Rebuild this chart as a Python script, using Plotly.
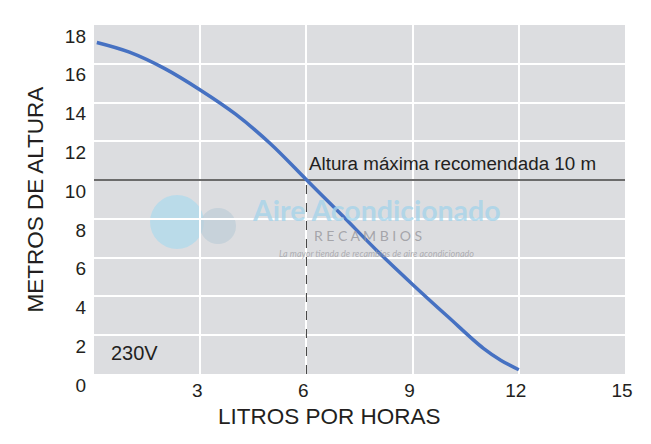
import plotly.graph_objects as go

# Data
flow_lph = [0.08, 1.0, 2.0, 3.0, 4.0, 5.0, 6.0, 7.0, 8.0, 9.0, 10.0, 11.0, 11.5, 12.0]
head_m = [17.1, 16.6, 15.75, 14.65, 13.4, 11.85, 10.02, 8.2, 6.35, 4.62, 2.95, 1.32, 0.7, 0.22]

x_ticks = [3, 6, 9, 12, 15]
y_ticks = [0, 2, 4, 6, 8, 10, 12, 14, 16, 18]
max_height = 10
max_height_flow = 6
ref_label = "Altura máxima recomendada 10 m"
voltage_label = "230V"
x_title = "LITROS POR HORAS"
y_title = "METROS DE ALTURA"

FONT = "Liberation Sans, Arial, sans-serif"
TXT = "#231f20"

fig = go.Figure()

# dashed vertical from flow at max height down to axis
fig.add_trace(go.Scatter(
    x=[max_height_flow, max_height_flow], y=[0, max_height],
    mode="lines", line=dict(color="#333333", width=1, dash="dash"),
    hoverinfo="skip", showlegend=False))

# recommended max height line
fig.add_trace(go.Scatter(
    x=[0, 15], y=[max_height, max_height],
    mode="lines", line=dict(color="#3a3a3a", width=1.5),
    hoverinfo="skip", showlegend=False))

# pump curve
fig.add_trace(go.Scatter(
    x=flow_lph, y=head_m, mode="lines",
    line=dict(color="#4671c2", width=3.5, shape="spline", smoothing=1.0),
    showlegend=False))

# page body has an 8px default margin, so margins compensate for it
fig.update_layout(
    width=651, height=444,
    margin=dict(l=86, r=34, t=17, b=78),
    paper_bgcolor="white",
    plot_bgcolor="#dcdde0",
    font=dict(family=FONT, color=TXT),
    xaxis=dict(range=[0, 15], tickvals=x_ticks, showgrid=True, automargin=False,
               gridcolor="white", gridwidth=2, zeroline=False,
               showline=False, ticks="", tickfont=dict(size=19, color=TXT),
               ticklabelshift=-3, ticklabelstandoff=3, fixedrange=True),
    yaxis=dict(range=[0, 18], tickvals=y_ticks, showgrid=True, automargin=False,
               gridcolor="white", gridwidth=2, zeroline=False,
               showline=False, ticks="", tickfont=dict(size=19, color=TXT),
               ticklabelshift=11, ticklabelstandoff=7, fixedrange=True),
)

annotations = [
    dict(text=x_title, xref="paper", yref="paper", x=0.444, y=-0.123,
         showarrow=False, font=dict(size=22.5, color=TXT), xanchor="center", yanchor="middle"),
    dict(text=y_title, xref="paper", yref="paper", x=-0.111, y=0.5, textangle=-90,
         showarrow=False, font=dict(size=22.5, color=TXT), xanchor="center", yanchor="middle"),
    dict(text=ref_label, x=6.03, y=10.85, xref="x", yref="y", showarrow=False,
         xanchor="left", yanchor="middle", font=dict(size=18.8, color=TXT)),
    dict(text=voltage_label, x=0.42, y=1.1, xref="x", yref="y", showarrow=False,
         xanchor="left", yanchor="middle", font=dict(size=20, color=TXT)),
    # watermark
    dict(text="<b>Aire Acondicionado</b>", xref="paper", yref="paper",
         x=(376 - 94) / 531, y=(374 - 210) / 349, showarrow=False,
         font=dict(size=28.5, color="rgba(165,212,234,0.8)", family="Lato, sans-serif")),
    dict(text="R E C A M B I O S", xref="paper", yref="paper",
         x=(368 - 94) / 531, y=(374 - 235) / 349, showarrow=False,
         font=dict(size=14, color="rgba(150,150,155,0.8)", family="Lato, sans-serif")),
    dict(text="<i>La mayor tienda de recambios de aire acondicionado</i>", xref="paper", yref="paper",
         x=(376 - 94) / 531, y=(374 - 253) / 349, showarrow=False,
         font=dict(size=9, color="rgba(160,160,165,0.8)", family="Lato, sans-serif")),
]
fig.update_layout(annotations=annotations)

def circ(cx, cy, r, color):
    return dict(type="circle", xref="paper", yref="paper",
                x0=(cx - r - 94) / 531, x1=(cx + r - 94) / 531,
                y0=(374 - cy - r) / 349, y1=(374 - cy + r) / 349,
                fillcolor=color, line=dict(width=0), layer="between")

fig.update_layout(shapes=[
    circ(177, 222, 27, "rgba(175,218,236,0.75)"),
    circ(218, 226, 18, "rgba(190,205,215,0.7)"),
])

fig.write_html("out.html")
